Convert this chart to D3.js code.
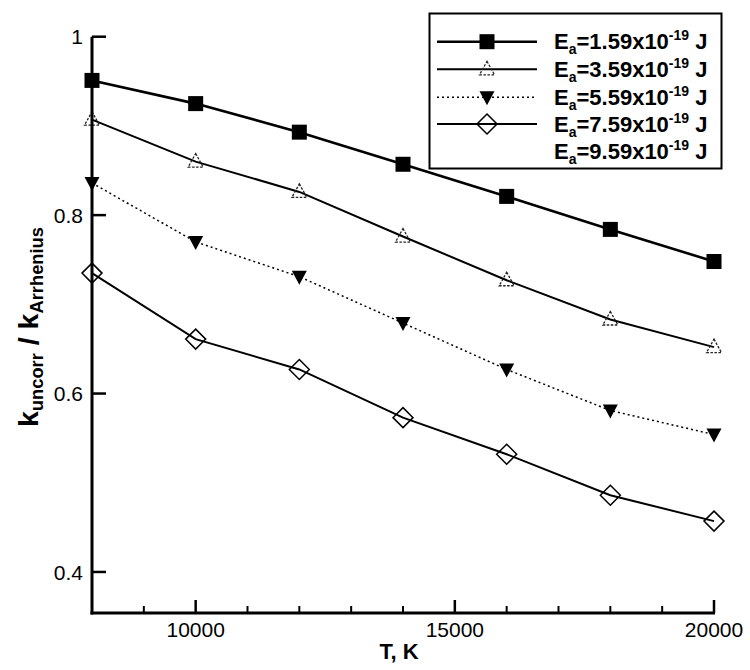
<!DOCTYPE html>
<html>
<head>
<meta charset="utf-8">
<script src="https://cdn.jsdelivr.net/npm/d3@7"></script>
<style>
  html, body { margin: 0; padding: 0; background: #fff; }
  svg { display: block; }
  text { font-family: "Liberation Sans", Arial, Helvetica, sans-serif; fill: #000; }
</style>
</head>
<body>
<svg id="chart" width="750" height="670"></svg>
<script>
// ---- data ----
const temperatures = [8000, 10000, 12000, 14000, 16000, 18000, 20000];
const seriesNames = ["1.59", "3.59", "5.59", "7.59", "9.59"];
const ea159 = [0.951, 0.925, 0.893, 0.857, 0.821, 0.784, 0.748];
const ea359 = [0.907, 0.860, 0.826, 0.776, 0.727, 0.683, 0.652];
const ea559 = [0.836, 0.770, 0.731, 0.679, 0.627, 0.581, 0.554];
const ea759 = [0.735, 0.661, 0.627, 0.573, 0.532, 0.486, 0.457];
const xMajorTicks = [10000, 15000, 20000];
const xMinorTicks = [9000, 11000, 12000, 13000, 14000, 16000, 17000, 18000, 19000];
const yTicks = [0.4, 0.6, 0.8, 1.0];
const yTickLabels = ["0.4", "0.6", "0.8", "1"];

const svg = d3.select("#chart");
const x = d3.scaleLinear().domain([8000, 20000]).range([92, 714]);
const y = d3.scaleLinear().domain([0.354, 1]).range([613, 36.7]);

// series styling
const series = [
  { name: seriesNames[0], values: ea159, marker: "square", width: 2.6, dash: null },
  { name: seriesNames[1], values: ea359, marker: "triangle", width: 2, dash: null },
  { name: seriesNames[2], values: ea559, marker: "down", width: 1.5, dash: "2,3" },
  { name: seriesNames[3], values: ea759, marker: "diamond", width: 2, dash: null },
  { name: seriesNames[4], values: null, marker: null, width: 0, dash: null }
];

function drawMarker(g, type, cx, cy) {
  if (type === "square") {
    g.append("rect").attr("x", cx - 7.5).attr("y", cy - 7.5).attr("width", 15).attr("height", 15)
      .attr("fill", "#000");
  } else if (type === "triangle") {
    g.append("path").attr("d", `M${cx},${cy - 8} L${cx + 7.5},${cy + 5.5} L${cx - 7.5},${cy + 5.5} Z`)
      .attr("fill", "none").attr("stroke", "#222").attr("stroke-width", 1.3).attr("stroke-dasharray", "2.5,1.5");
  } else if (type === "down") {
    g.append("path").attr("d", `M${cx - 7.5},${cy - 6} L${cx + 7.5},${cy - 6} L${cx},${cy + 8} Z`)
      .attr("fill", "#000");
  } else if (type === "diamond") {
    g.append("path").attr("d", `M${cx},${cy - 10} L${cx + 10},${cy} L${cx},${cy + 10} L${cx - 10},${cy} Z`)
      .attr("fill", "none").attr("stroke", "#000").attr("stroke-width", 1.5);
  }
}

// ---- lines & markers ----
const line = d3.line().x((d, i) => x(temperatures[i])).y(d => y(d));
series.forEach(s => {
  if (!s.values) return;
  const p = svg.append("path").datum(s.values).attr("d", line)
    .attr("fill", "none").attr("stroke", "#000").attr("stroke-width", s.width);
  if (s.dash) p.attr("stroke-dasharray", s.dash);
  const g = svg.append("g");
  s.values.forEach((v, i) => drawMarker(g, s.marker, x(temperatures[i]), y(v)));
});

// ---- axes ----
const axG = svg.append("g");
axG.append("line").attr("x1", x(8000)).attr("x2", x(8000)).attr("y1", y(1) ).attr("y2", y(0.354) + 1.5)
  .attr("stroke", "#000").attr("stroke-width", 3);
axG.append("line").attr("x1", x(8000) - 1.5).attr("x2", x(20000) + 1).attr("y1", y(0.354)).attr("y2", y(0.354))
  .attr("stroke", "#000").attr("stroke-width", 3);

yTicks.forEach((t, i) => {
  axG.append("line").attr("x1", x(8000)).attr("x2", x(8000) + 14).attr("y1", y(t)).attr("y2", y(t))
    .attr("stroke", "#000").attr("stroke-width", 2.5);
  axG.append("text").attr("x", 83).attr("y", y(t)).attr("dy", "0.36em")
    .attr("text-anchor", "end").attr("font-size", 21).text(yTickLabels[i]);
});

xMajorTicks.forEach(t => {
  axG.append("line").attr("x1", x(t)).attr("x2", x(t)).attr("y1", y(0.354)).attr("y2", y(0.354) - 13)
    .attr("stroke", "#000").attr("stroke-width", 2.5);
  axG.append("text").attr("x", x(t)).attr("y", 637).attr("text-anchor", "middle")
    .attr("font-size", 21).text(d3.format("d")(t));
});
xMinorTicks.forEach(t => {
  axG.append("line").attr("x1", x(t)).attr("x2", x(t)).attr("y1", y(0.354)).attr("y2", y(0.354) - 7)
    .attr("stroke", "#000").attr("stroke-width", 2);
});

// axis titles
svg.append("text").attr("x", 399).attr("y", 659).attr("text-anchor", "middle")
  .attr("font-size", 22).attr("font-weight", "bold").text("T, K");

const yl = svg.append("text").attr("transform", "translate(38,327) rotate(-90)")
  .attr("text-anchor", "middle").attr("font-weight", "bold").attr("font-size", 28)
  .attr("textLength", 200).attr("lengthAdjust", "spacingAndGlyphs");
yl.append("tspan").text("k");
yl.append("tspan").attr("font-size", 18).attr("dy", 5).text("uncorr");
yl.append("tspan").attr("dy", -5).text(" / k");
yl.append("tspan").attr("font-size", 18).attr("dy", 5).text("Arrhenius");

// ---- legend ----
const lg = svg.append("g");
lg.append("rect").attr("x", 429.5).attr("y", 13.5).attr("width", 292).attr("height", 155)
  .attr("fill", "#fff").attr("stroke", "#000").attr("stroke-width", 2);
const rowY = [41.7, 69.3, 97.3, 124, 151];
series.forEach((s, i) => {
  const ry = rowY[i];
  if (s.values) {
    const l = lg.append("line").attr("x1", 437).attr("x2", 537).attr("y1", ry).attr("y2", ry)
      .attr("stroke", "#000").attr("stroke-width", s.width);
    if (s.dash) l.attr("stroke-dasharray", s.dash);
    drawMarker(lg, s.marker, 487, ry);
  }
  const t = lg.append("text").attr("x", 554).attr("y", ry + 7.5)
    .attr("font-size", 22).attr("font-weight", "bold");
  t.append("tspan").text("E");
  t.append("tspan").attr("font-size", 14).attr("dy", 5).text("a");
  t.append("tspan").attr("dy", -5).text("=" + s.name + "x10");
  t.append("tspan").attr("font-size", 14).attr("dy", -9).text("-19");
  t.append("tspan").attr("dy", 9).text(" J");
});
</script>
</body>
</html>
